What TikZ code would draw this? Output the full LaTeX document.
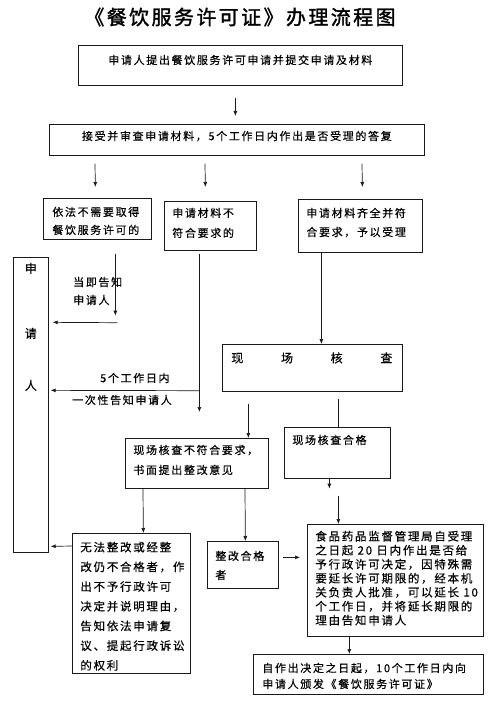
\documentclass[tikz,border=0pt]{standalone}
\usepackage{fontspec}
\setmainfont{Noto Sans CJK SC}[LetterSpace=15,FakeBold=0.4]
\newfontfamily\titlefont{Noto Sans CJK SC}[LetterSpace=12,FakeBold=1.6]
\usetikzlibrary{arrows.meta}
% box text: width, height, top pad, left pad, line skip, text
\newcommand{\boxtxt}[6]{\parbox[c][#2pt][t]{#1pt}{\vskip#3pt\raggedright\leftskip=#4pt\relax\baselineskip=#5pt\relax #6\par}}

\begin{document}
\begin{tikzpicture}[x=1pt,y=-1pt,
	box/.style={draw=black!90, line width=0.7pt, anchor=north west, inner sep=0pt, font=\fontsize{11}{14}\selectfont},
	lbl/.style={inner sep=0pt, anchor=west, align=left, font=\fontsize{11}{18}\selectfont},
	arr/.style={draw=black!90, line width=0.7pt, -{Latex[length=5pt,width=4pt]}},
	link/.style={draw=black!90, line width=0.7pt}]
	%%%%% START %%%%%
	
	\fill[white] (0,0) rectangle (500,703);
	\useasboundingbox (0,0) rectangle (500,703);
	
	\node[font=\titlefont\fontsize{20}{20}\selectfont, inner sep=0pt] (title) at (240,17) {《餐饮服务许可证》办理流程图};
	
	\node[box] (apply) at (78,45) {\boxtxt{324}{40}{9.5}{0}{14}{\centering 申请人提出餐饮服务许可申请并提交申请及材料}};
	\node[box] (accept) at (49,124) {\boxtxt{375}{31}{6.5}{0}{14}{\centering 接受并审查申请材料，5个工作日内作出是否受理的答复}};
	
	\node[box] (noneed) at (43,198) {\boxtxt{108}{41}{8.5}{9}{18}{依法不需要取得\\餐饮服务许可的}};
	\node[box] (notok) at (164,201) {\boxtxt{92}{49}{6.5}{8}{20}{申请材料不\\符合要求的}};
	\node[box] (ok) at (298,199) {\boxtxt{124}{53}{8.5}{8}{19}{申请材料齐全并符\\合要求，予以受理}};
	
	\node[box] (applicant) at (13,257) {\boxtxt{35}{295}{5.5}{0}{14}{\fontsize{12}{14}\selectfont\centering 申\\[51pt]请\\[38pt]人}};
	
	\node[box] (check) at (222,344) {\boxtxt{180}{47}{8}{9}{14}{\fontsize{12}{14}\selectfont\makebox[161pt][l]{现\hfill 场\hfill 核\hfill 查}}};
	\node[box] (fail) at (125,438) {\boxtxt{143}{50}{6.5}{8}{20}{现场核查不符合要求，\\书面提出整改意见}};
	\node[box] (pass) at (284,427) {\boxtxt{106}{51}{7.5}{8}{14}{现场核查合格}};
	
	\node[box] (noway) at (72,533) {\boxtxt{118}{140}{8.5}{8}{19.7}{\fontsize{11.5}{19.7}\selectfont 无法整改或经整\\改仍不合格者，作\\出不予行政许可\\决定并说明理由，\\告知依法申请复\\议、提起行政诉讼\\的权利}};
	\node[box] (fixed) at (207,541) {\boxtxt{71}{47}{9.5}{8}{19}{整改合格\\者}};
	\node[box] (review) at (307,524) {\boxtxt{176}{112}{6.5}{8}{14}{\fontsize{11.5}{14}\selectfont 食品药品监督管理局自受理\\之日起 20 日内作出是否给\\予行政许可决定，因特殊需\\要延长许可期限的，经本机\\关负责人批准，可以延长 10\\个工作日，并将延长期限的\\理由告知申请人}};
	\node[box] (issue) at (253,654) {\boxtxt{230}{40}{8.5}{9}{16}{自作出决定之日起，10个工作日内向\\申请人颁发《餐饮服务许可证》}};
	
	\node[lbl] (tell) at (73,291) {当即告知\\申请人};
	\node[lbl] (days) at (100,378) {5个工作日内};
	\node[lbl] (once) at (72,400) {一次性告知申请人};
	
	% connectors
	\draw[arr] ([xshift=-5pt,yshift=-12pt]apply.south) -- ([xshift=-1.5pt,yshift=8pt]accept.north);
	\draw[arr] ([xshift=46pt,yshift=-8pt]accept.south west) -- ([xshift=-2pt,yshift=11pt]noneed.north);
	\draw[arr] ([xshift=156pt,yshift=-8pt]accept.south west) -- ([xshift=-5pt,yshift=14pt]notok.north);
	\draw[arr] ([xshift=313pt,yshift=-8pt]accept.south west) -- ([xshift=2pt,yshift=12pt]ok.north);
	
	\draw[arr] ([xshift=18pt,yshift=-14pt]noneed.south) -- ([xshift=18pt,yshift=-76pt]noneed.south);
	\draw[arr] ([xshift=20pt,yshift=-83pt]noneed.south) -- ([xshift=4pt,yshift=82.5pt]applicant.east);
	
	\draw[arr] ([xshift=-11pt,yshift=-3pt]notok.south) -- ([xshift=2.5pt,yshift=26pt]fail.north);
	\draw[arr] ([xshift=-11pt,yshift=-140pt]notok.south) -- ([xshift=2pt,yshift=14.5pt]applicant.east);
	
	\draw[arr] ([xshift=-39pt]ok.south) -- ([xshift=9pt]check.north);
	\draw[arr] ([xshift=-64pt,yshift=-12pt]check.south) -- ([xshift=51.5pt]fail.north);
	\draw[link] ([xshift=26pt,yshift=-7pt]check.south) -- ([xshift=1pt]pass.north);
	
	\draw[arr] ([xshift=-8pt]pass.south) -- ([xshift=-8pt,yshift=-10pt]pass.south);
	\draw[arr] ([xshift=1pt,yshift=-17pt]pass.south) -- ([xshift=-57pt]review.north);
	
	\draw[arr] ([xshift=18pt]fail.south west) -- ([xshift=12pt]noway.north);
	\draw[arr] ([xshift=120pt]fail.south west) -- ([xshift=2.5pt]fixed.north);
	\draw[arr] ([yshift=-13pt]noway.north west) -- ([xshift=2pt,yshift=-141.5pt]applicant.east);
	\draw[arr] ([xshift=4pt,yshift=7.5pt]fixed.east) -- ([xshift=-7pt,yshift=23pt]review.west);
	\draw[arr] ([xshift=-46pt]review.south) -- ([xshift=-19pt]issue.north);
	
	%%%%% END %%%%%
\end{tikzpicture}
\end{document}
